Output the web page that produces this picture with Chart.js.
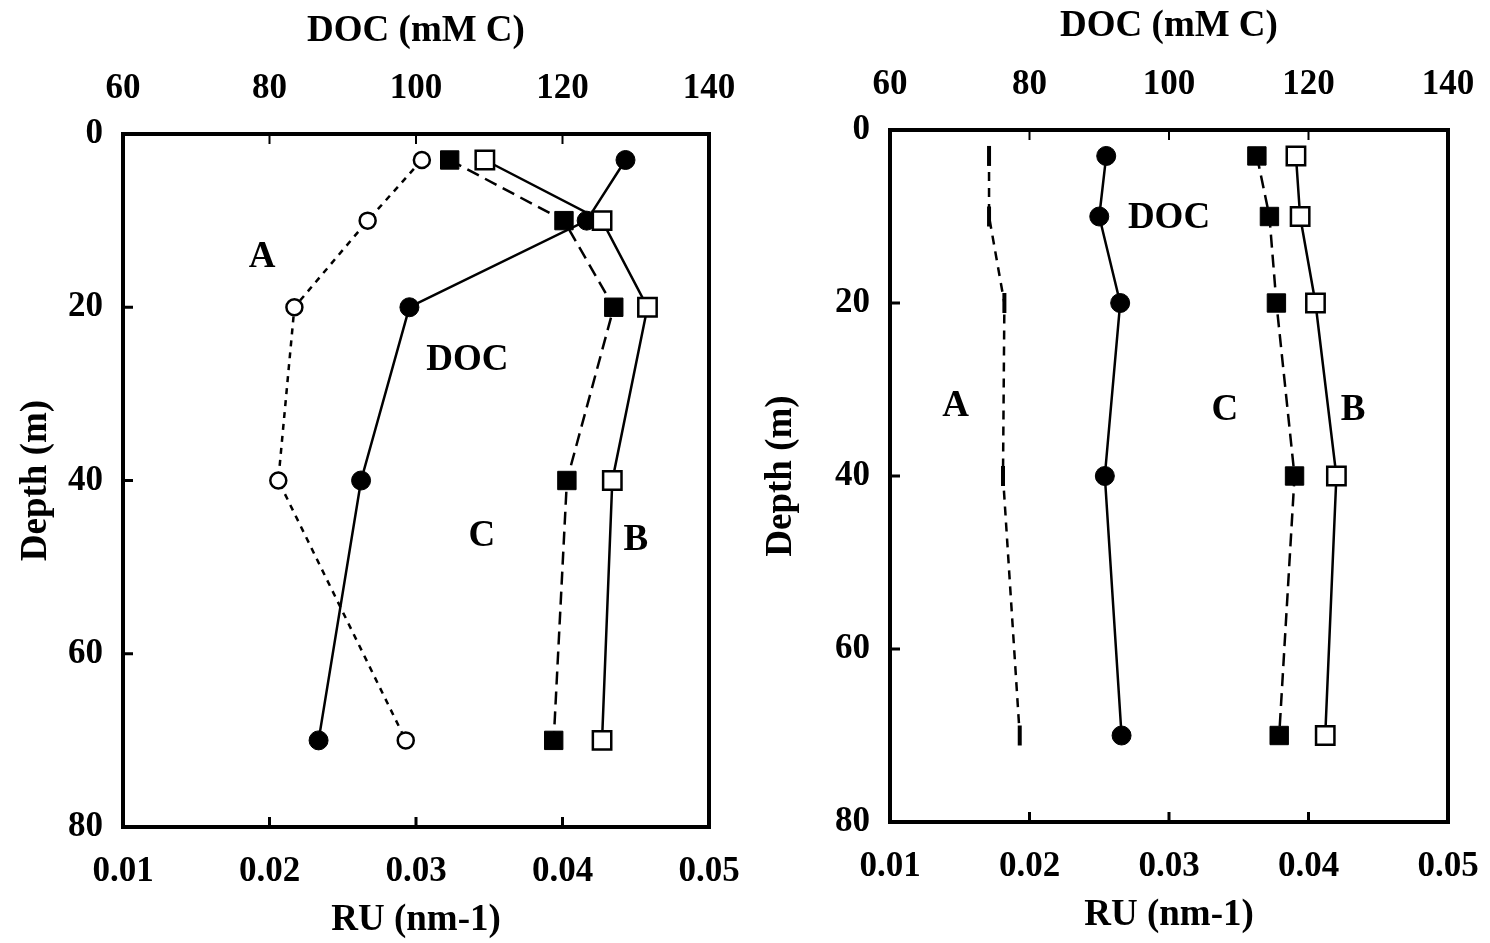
<!DOCTYPE html>
<html>
<head>
<meta charset="utf-8">
<script src="https://cdn.jsdelivr.net/npm/chart.js@4"></script>
<style>
  body { margin: 0; background: #fff; }
  canvas { position: absolute; top: 0; }
  #leftChart { left: 0; }
  #rightChart { left: 745px; }
</style>
</head>
<body>
<canvas id="leftChart" width="745" height="943"></canvas>
<canvas id="rightChart" width="745" height="943"></canvas>
<script>
// depths (m) shared by both profiles
const depths = [3, 10, 20, 40, 70];

// left panel: RU (nm-1) for A, B, C and DOC (mM C)
const leftA = [0.0304, 0.0267, 0.0217, 0.0206, 0.0293];
const leftB = [0.0347, 0.0427, 0.0458, 0.0434, 0.0427];
const leftC = [0.0323, 0.0401, 0.0435, 0.0403, 0.0394];
const leftDoc = [128.6, 123.3, 99.1, 92.5, 86.7];

// right panel
const rightA = [0.0171, 0.0171, 0.0182, 0.0181, 0.0193];
const rightB = [0.0391, 0.0394, 0.0405, 0.0420, 0.0412];
const rightC = [0.0363, 0.0372, 0.0377, 0.0390, 0.0379];
const rightDoc = [91.0, 90.0, 93.0, 90.8, 93.2];

// in-plot labels (placed at RU / depth values)
const labelText = ["A", "DOC", "C", "B"];
const leftLabelRu = [0.0195, 0.0335, 0.0345, 0.0450];
const leftLabelDepth = [14.3, 26.1, 46.5, 46.9];
const rightLabelRu = [0.0147, 0.0300, 0.0340, 0.0432];
const rightLabelDepth = [32.0, 10.2, 32.4, 32.4];

const FONT = "'Liberation Serif', 'Times New Roman', serif";

function pts(xs) {
    return xs.map((v, i) => ({ x: v, y: depths[i] }));
}

// frame + inward tick marks + text labels
const framePlugin = {
    id: "frame",
    afterDatasetsDraw(chart, args, opts) {
        const ctx = chart.ctx;
        const a = chart.chartArea;
        const sx = chart.scales.x, sx2 = chart.scales.x2, sy = chart.scales.y;
        ctx.save();
        ctx.strokeStyle = "#000";
        ctx.lineWidth = 4;
        ctx.strokeRect(a.left, a.top, a.right - a.left, a.bottom - a.top);

        ctx.lineWidth = 3;
        ctx.beginPath();
        sx.ticks.forEach(t => {
            let px = sx.getPixelForValue(t.value);
            if (px > a.left + 3 && px < a.right - 3) { ctx.moveTo(px, a.bottom); ctx.lineTo(px, a.bottom - 10); }
        });
        sy.ticks.forEach(t => {
            let py = sy.getPixelForValue(t.value);
            if (py > a.top + 3 && py < a.bottom - 3) { ctx.moveTo(a.left, py); ctx.lineTo(a.left + 10, py); }
        });
        ctx.stroke();
        ctx.lineWidth = 2;
        ctx.beginPath();
        sx2.ticks.forEach(t => {
            let px = sx2.getPixelForValue(t.value);
            if (px > a.left + 3 && px < a.right - 3) { ctx.moveTo(px, a.top); ctx.lineTo(px, a.top + 10); }
        });
        ctx.stroke();

        ctx.fillStyle = "#000";
        ctx.font = "bold 37px " + FONT;
        ctx.textAlign = "center";
        ctx.textBaseline = "middle";
        opts.text.forEach((txt, i) => {
            ctx.fillText(txt, sx.getPixelForValue(opts.ru[i]), sy.getPixelForValue(opts.depth[i]));
        });
        ctx.restore();
    }
};

function makePanel(canvasId, series, labelRu, labelDepth, box, rightA) {
    const ctx = document.getElementById(canvasId).getContext("2d");
    const tickFont = { family: FONT, size: 35, weight: "bold" };
    const titleFont = { family: FONT, size: 37, weight: "bold" };

    let aSet;
    if (rightA) {
        aSet = {
            label: "A", data: pts(series.a), xAxisID: "x",
            borderColor: "#000", borderWidth: 2.5, borderDash: [9, 7],
            pointStyle: "line", rotation: 90, pointRadius: 10,
            pointBorderWidth: 4, pointBorderColor: "#000"
        };
    } else {
        aSet = {
            label: "A", data: pts(series.a), xAxisID: "x",
            borderColor: "#000", borderWidth: 2.5, borderDash: [6, 6],
            pointStyle: "circle", pointRadius: 8,
            pointBackgroundColor: "#fff", pointBorderColor: "#000", pointBorderWidth: 2.5
        };
    }

    return new Chart(ctx, {
        type: "scatter",
        data: {
            datasets: [
                aSet,
                {
                    label: "C", data: pts(series.c), xAxisID: "x",
                    borderColor: "#000", borderWidth: 2.5, borderDash: [13, 7],
                    pointStyle: "rect", pointRadius: 13,
                    pointBackgroundColor: "#000", pointBorderColor: "#000", pointBorderWidth: 1
                },
                {
                    label: "B", data: pts(series.b), xAxisID: "x",
                    borderColor: "#000", borderWidth: 2.5,
                    pointStyle: "rect", pointRadius: 13,
                    pointBackgroundColor: "#fff", pointBorderColor: "#000", pointBorderWidth: 2.5
                },
                {
                    label: "DOC", data: pts(series.doc), xAxisID: "x2",
                    borderColor: "#000", borderWidth: 2.5,
                    pointStyle: "circle", pointRadius: 9.5,
                    pointBackgroundColor: "#000", pointBorderColor: "#000", pointBorderWidth: 1
                }
            ].map(d => Object.assign({ showLine: true, fill: false, tension: 0 }, d))
        },
        options: {
            responsive: false,
            animation: false,
            layout: { padding: { left: 0, right: box.right, top: 0, bottom: 0 } },
            plugins: {
                legend: { display: false },
                tooltip: { enabled: false },
                frame: { text: labelText, ru: labelRu, depth: labelDepth }
            },
            scales: {
                x: {
                    type: "linear", position: "bottom", min: 0.01, max: 0.05,
                    ticks: { stepSize: 0.01, color: "#000", font: tickFont, padding: box.bottomPad, maxRotation: 0,
                             callback: v => v.toFixed(2) },
                    grid: { display: false },
                    border: { display: false },
                    title: { display: true, text: "RU (nm-1)", color: "#000", font: titleFont, padding: { bottom: box.bottomTitlePad } },
                    afterFit: s => { s.height = box.bottom; s.paddingLeft = 0; s.paddingRight = 0; }
                },
                x2: {
                    type: "linear", position: "top", min: 60, max: 140,
                    ticks: { stepSize: 20, color: "#000", font: tickFont, padding: box.topPad, maxRotation: 0 },
                    grid: { display: false },
                    border: { display: false },
                    title: { display: true, text: "DOC (mM C)", color: "#000", font: titleFont, padding: { top: box.topTitlePad } },
                    afterFit: s => { s.height = box.top; s.paddingLeft = 0; s.paddingRight = 0; }
                },
                y: {
                    type: "linear", position: "left", min: 0, max: 80, reverse: true,
                    ticks: { stepSize: 20, color: "#000", font: tickFont, padding: 12 },
                    grid: { display: false },
                    border: { display: false },
                    title: { display: true, text: "Depth (m)", color: "#000", font: titleFont, padding: { top: 14 } },
                    afterFit: s => { s.width = box.left; s.paddingTop = 0; s.paddingBottom = 0; }
                }
            }
        },
        plugins: [framePlugin]
    });
}

makePanel("leftChart",
    { a: leftA, b: leftB, c: leftC, doc: leftDoc },
    leftLabelRu, leftLabelDepth,
    { left: 123, right: 36, top: 134, bottom: 116, topPad: 16, topTitlePad: 9, bottomPad: 16, bottomTitlePad: 0 }, false);

makePanel("rightChart",
    { a: rightA, b: rightB, c: rightC, doc: rightDoc },
    rightLabelRu, rightLabelDepth,
    { left: 145, right: 42, top: 130, bottom: 121, topPad: 16, topTitlePad: 4, bottomPad: 16, bottomTitlePad: 5 }, true);
</script>
</body>
</html>
